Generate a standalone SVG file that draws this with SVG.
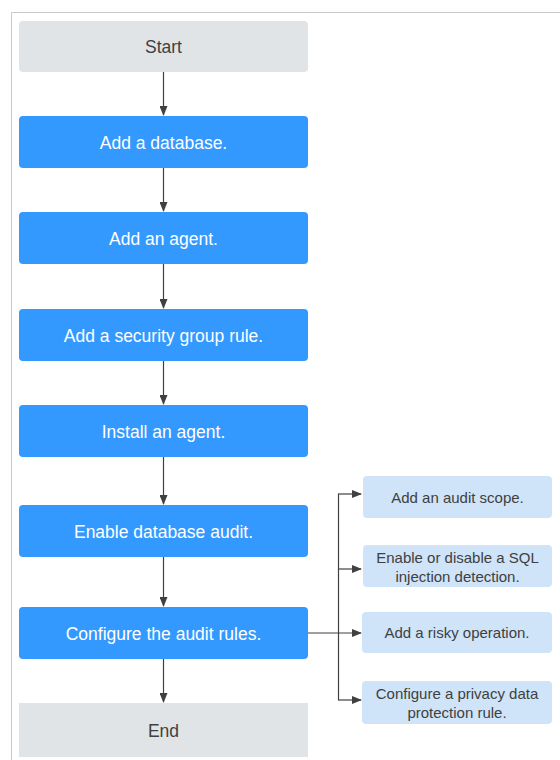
<svg xmlns="http://www.w3.org/2000/svg" width="560" height="760" viewBox="0 0 560 760">
<style>
.main{fill:#3399ff}
.term{fill:#e1e4e7}
.sub{fill:#cfe4f8}
.tw{font-family:"Liberation Sans",Arial,sans-serif;font-size:17.5px;fill:#ffffff;text-anchor:middle}
.tg{font-family:"Liberation Sans",Arial,sans-serif;font-size:17.5px;fill:#404040;text-anchor:middle}
.ts{font-family:"Liberation Sans",Arial,sans-serif;font-size:15px;fill:#404040;text-anchor:middle}
.ln{stroke:#404040;stroke-width:1.2;fill:none}
</style>
<defs>
<marker id="ah" markerWidth="10" markerHeight="8" refX="9" refY="4" orient="auto" markerUnits="userSpaceOnUse">
<path d="M0,0 L10,4 L0,8 Z" fill="#404040"/>
</marker>
</defs>
<rect x="0" y="0" width="560" height="760" fill="#ffffff"/>
<path d="M11.5,760 L11.5,12.5 L560,12.5" stroke="#c8c8c8" stroke-width="1" fill="none"/>
<g id="connectors">
<line class="ln" x1="163.5" y1="72" x2="163.5" y2="115" marker-end="url(#ah)"/>
<line class="ln" x1="163.5" y1="168" x2="163.5" y2="211" marker-end="url(#ah)"/>
<line class="ln" x1="163.5" y1="264" x2="163.5" y2="308" marker-end="url(#ah)"/>
<line class="ln" x1="163.5" y1="361" x2="163.5" y2="404" marker-end="url(#ah)"/>
<line class="ln" x1="163.5" y1="457" x2="163.5" y2="504" marker-end="url(#ah)"/>
<line class="ln" x1="163.5" y1="557" x2="163.5" y2="606" marker-end="url(#ah)"/>
<line class="ln" x1="163.5" y1="659" x2="163.5" y2="702" marker-end="url(#ah)"/>
<line class="ln" x1="308" y1="633" x2="361" y2="633" marker-end="url(#ah)"/>
<line class="ln" x1="338.5" y1="494" x2="338.5" y2="700"/>
<line class="ln" x1="338" y1="494" x2="361" y2="494" marker-end="url(#ah)"/>
<line class="ln" x1="338" y1="569" x2="361" y2="569" marker-end="url(#ah)"/>
<line class="ln" x1="338" y1="700" x2="361" y2="700" marker-end="url(#ah)"/>
</g>
<g id="start"><rect class="term" x="19" y="21" width="289" height="51" rx="4"/><text class="tg" x="163.5" y="53">Start</text></g>
<g id="add-db"><rect class="main" x="19" y="116" width="289" height="52" rx="4"/><text class="tw" x="163.5" y="149">Add a database.</text></g>
<g id="add-agent"><rect class="main" x="19" y="212" width="289" height="52" rx="4"/><text class="tw" x="163.5" y="245">Add an agent.</text></g>
<g id="add-sg"><rect class="main" x="19" y="309" width="289" height="52" rx="4"/><text class="tw" x="163.5" y="342">Add a security group rule.</text></g>
<g id="install"><rect class="main" x="19" y="405" width="289" height="52" rx="4"/><text class="tw" x="163.5" y="438">Install an agent.</text></g>
<g id="enable"><rect class="main" x="19" y="505" width="289" height="52" rx="4"/><text class="tw" x="163.5" y="538">Enable database audit.</text></g>
<g id="configure"><rect class="main" x="19" y="607" width="289" height="52" rx="4"/><text class="tw" x="163.5" y="640">Configure the audit rules.</text></g>
<g id="end"><rect class="term" x="19" y="703" width="289" height="54"/><text class="tg" x="163.5" y="737">End</text></g>
<g id="scope"><rect class="sub" x="363" y="476" width="189" height="42" rx="4"/><text class="ts" x="457.5" y="503">Add an audit scope.</text></g>
<g id="sql"><rect class="sub" x="363" y="545" width="189" height="42" rx="4"/><text class="ts" x="457.5" y="563">Enable or disable a SQL</text><text class="ts" x="457.5" y="582">injection detection.</text></g>
<g id="risky"><rect class="sub" x="362" y="612" width="190" height="41" rx="4"/><text class="ts" x="457" y="638">Add a risky operation.</text></g>
<g id="privacy"><rect class="sub" x="362" y="681" width="190" height="43" rx="4"/><text class="ts" x="457" y="699">Configure a privacy data</text><text class="ts" x="457" y="718">protection rule.</text></g>
</svg>
